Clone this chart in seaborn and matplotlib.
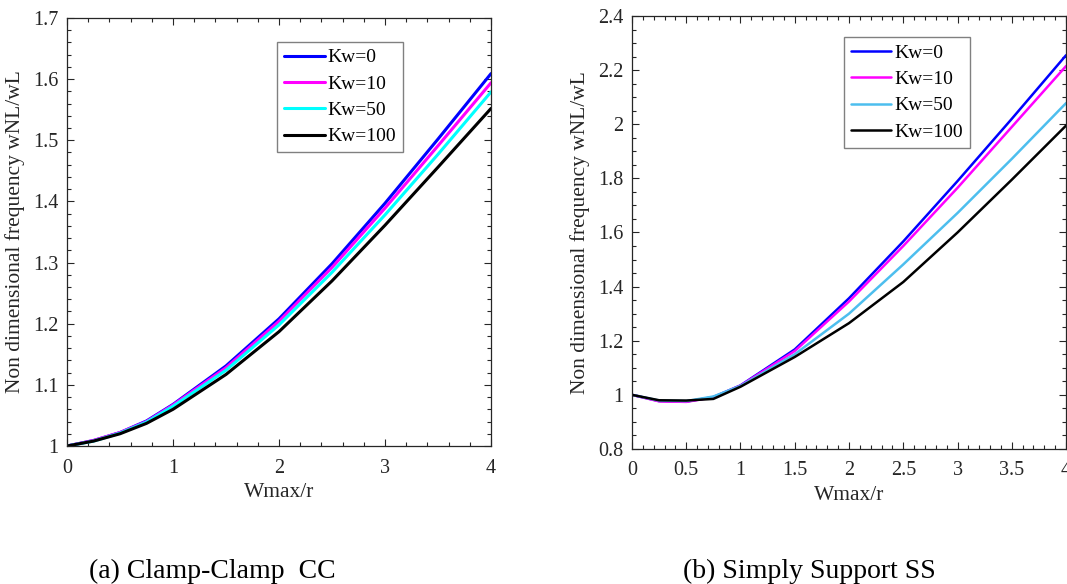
import pandas as pd
import matplotlib.pyplot as plt
import matplotlib.ticker as mticker
import seaborn as sns

# Wmax/r sample points
x_vals = [0, 0.25, 0.5, 0.75, 1, 1.5, 2, 2.5, 3, 3.5, 4]
kw_labels = ["Kw=0", "Kw=10", "Kw=50", "Kw=100"]

# (a) Clamp-Clamp
cc_kw0 = [1.0, 1.009, 1.022, 1.041, 1.068, 1.131, 1.208, 1.298, 1.397, 1.502, 1.609]
cc_kw10 = [1.0, 1.009, 1.022, 1.040, 1.067, 1.128, 1.204, 1.292, 1.389, 1.491, 1.594]
cc_kw50 = [1.0, 1.008, 1.021, 1.039, 1.065, 1.124, 1.198, 1.284, 1.378, 1.477, 1.579]
cc_kw100 = [1.0, 1.008, 1.020, 1.037, 1.060, 1.117, 1.187, 1.270, 1.361, 1.456, 1.552]

# (b) Simply Support
ss_kw0 = [1.0, 0.977, 0.975, 0.992, 1.035, 1.168, 1.357, 1.567, 1.790, 2.020, 2.255]
ss_kw10 = [1.0, 0.976, 0.974, 0.991, 1.034, 1.162, 1.345, 1.550, 1.765, 1.990, 2.215]
ss_kw50 = [1.0, 0.979, 0.977, 0.994, 1.033, 1.150, 1.300, 1.482, 1.672, 1.872, 2.078]
ss_kw100 = [1.0, 0.980, 0.979, 0.985, 1.030, 1.140, 1.265, 1.417, 1.600, 1.795, 1.995]


def to_long(series):
    rows = []
    for lab, vals in zip(kw_labels, series):
        for xv, yv in zip(x_vals, vals):
            rows.append({"x": xv, "y": yv, "Kw": lab})
    return pd.DataFrame(rows)


df_cc = to_long([cc_kw0, cc_kw10, cc_kw50, cc_kw100])
df_ss = to_long([ss_kw0, ss_kw10, ss_kw50, ss_kw100])

sns.set_style("ticks")
plt.rcParams['font.family'] = ['Liberation Serif', 'DejaVu Serif']

TXT = '#262626'
pal_cc = {"Kw=0": "#0000ff", "Kw=10": "#ff00ff", "Kw=50": "#00ffff", "Kw=100": "#000000"}
pal_ss = {"Kw=0": "#0000ff", "Kw=10": "#ff00ff", "Kw=50": "#4dbeee", "Kw=100": "#000000"}

fig = plt.figure(figsize=(10.67, 5.84), dpi=100)
ax1 = fig.add_axes([0.0628, 0.2363, 0.3974, 0.733])
ax2 = fig.add_axes([0.5923, 0.2312, 0.4068, 0.7414])


def style_axes(ax, ylim, ymaj, ymin, xmaj, xmin, leg_anchor):
    ax.set_xlim(0, 4)
    ax.set_ylim(*ylim)
    ax.xaxis.set_major_locator(mticker.MultipleLocator(xmaj))
    ax.xaxis.set_minor_locator(mticker.MultipleLocator(xmin))
    ax.yaxis.set_major_locator(mticker.MultipleLocator(ymaj))
    ax.yaxis.set_minor_locator(mticker.MultipleLocator(ymin))
    ax.xaxis.set_major_formatter(mticker.FormatStrFormatter('%g'))
    ax.yaxis.set_major_formatter(mticker.FormatStrFormatter('%g'))
    ax.tick_params(which='both', direction='in', top=True, right=True,
                   colors=TXT, labelsize=14.5, width=0.8)
    ax.tick_params(which='major', length=5, pad=6)
    ax.tick_params(which='minor', length=3)
    ax.tick_params(axis='x', which='major', pad=9)
    for sp in ax.spines.values():
        sp.set_visible(True)
        sp.set_color(TXT)
        sp.set_linewidth(0.9)
    ax.set_xlabel('Wmax/r', fontsize=15.5, color=TXT, labelpad=4)
    ax.set_ylabel('Non dimensional frequency wNL/wL', fontsize=15.5, color=TXT, labelpad=6)
    leg = ax.legend(loc='upper left', bbox_to_anchor=leg_anchor, fontsize=14,
                    frameon=True, fancybox=False, edgecolor='#808080', framealpha=1,
                    handlelength=2.1, handletextpad=0.15, labelspacing=0.45,
                    borderpad=0.35, borderaxespad=0)
    leg.get_frame().set_linewidth(1.0)
    for t in leg.get_texts():
        t.set_color('black')


sns.lineplot(data=df_cc, x='x', y='y', hue='Kw', hue_order=kw_labels,
             palette=pal_cc, linewidth=2.2, ax=ax1, estimator=None, sort=False)
style_axes(ax1, (1.0, 1.7), 0.1, 0.02, 1, 0.2, (0.495, 0.944))

sns.lineplot(data=df_ss, x='x', y='y', hue='Kw', hue_order=kw_labels,
             palette=pal_ss, linewidth=1.8, ax=ax2, estimator=None, sort=False)
style_axes(ax2, (0.8, 2.4), 0.2, 0.05, 0.5, 0.1, (0.488, 0.951))

fig.text(0.083, 0.011, '(a) Clamp-Clamp  CC', fontsize=20, color='black',
         ha='left', va='baseline')
fig.text(0.640, 0.011, '(b) Simply Support SS', fontsize=20, color='black',
         ha='left', va='baseline')

fig.savefig('out.png', dpi=100)
plt.close(fig)
